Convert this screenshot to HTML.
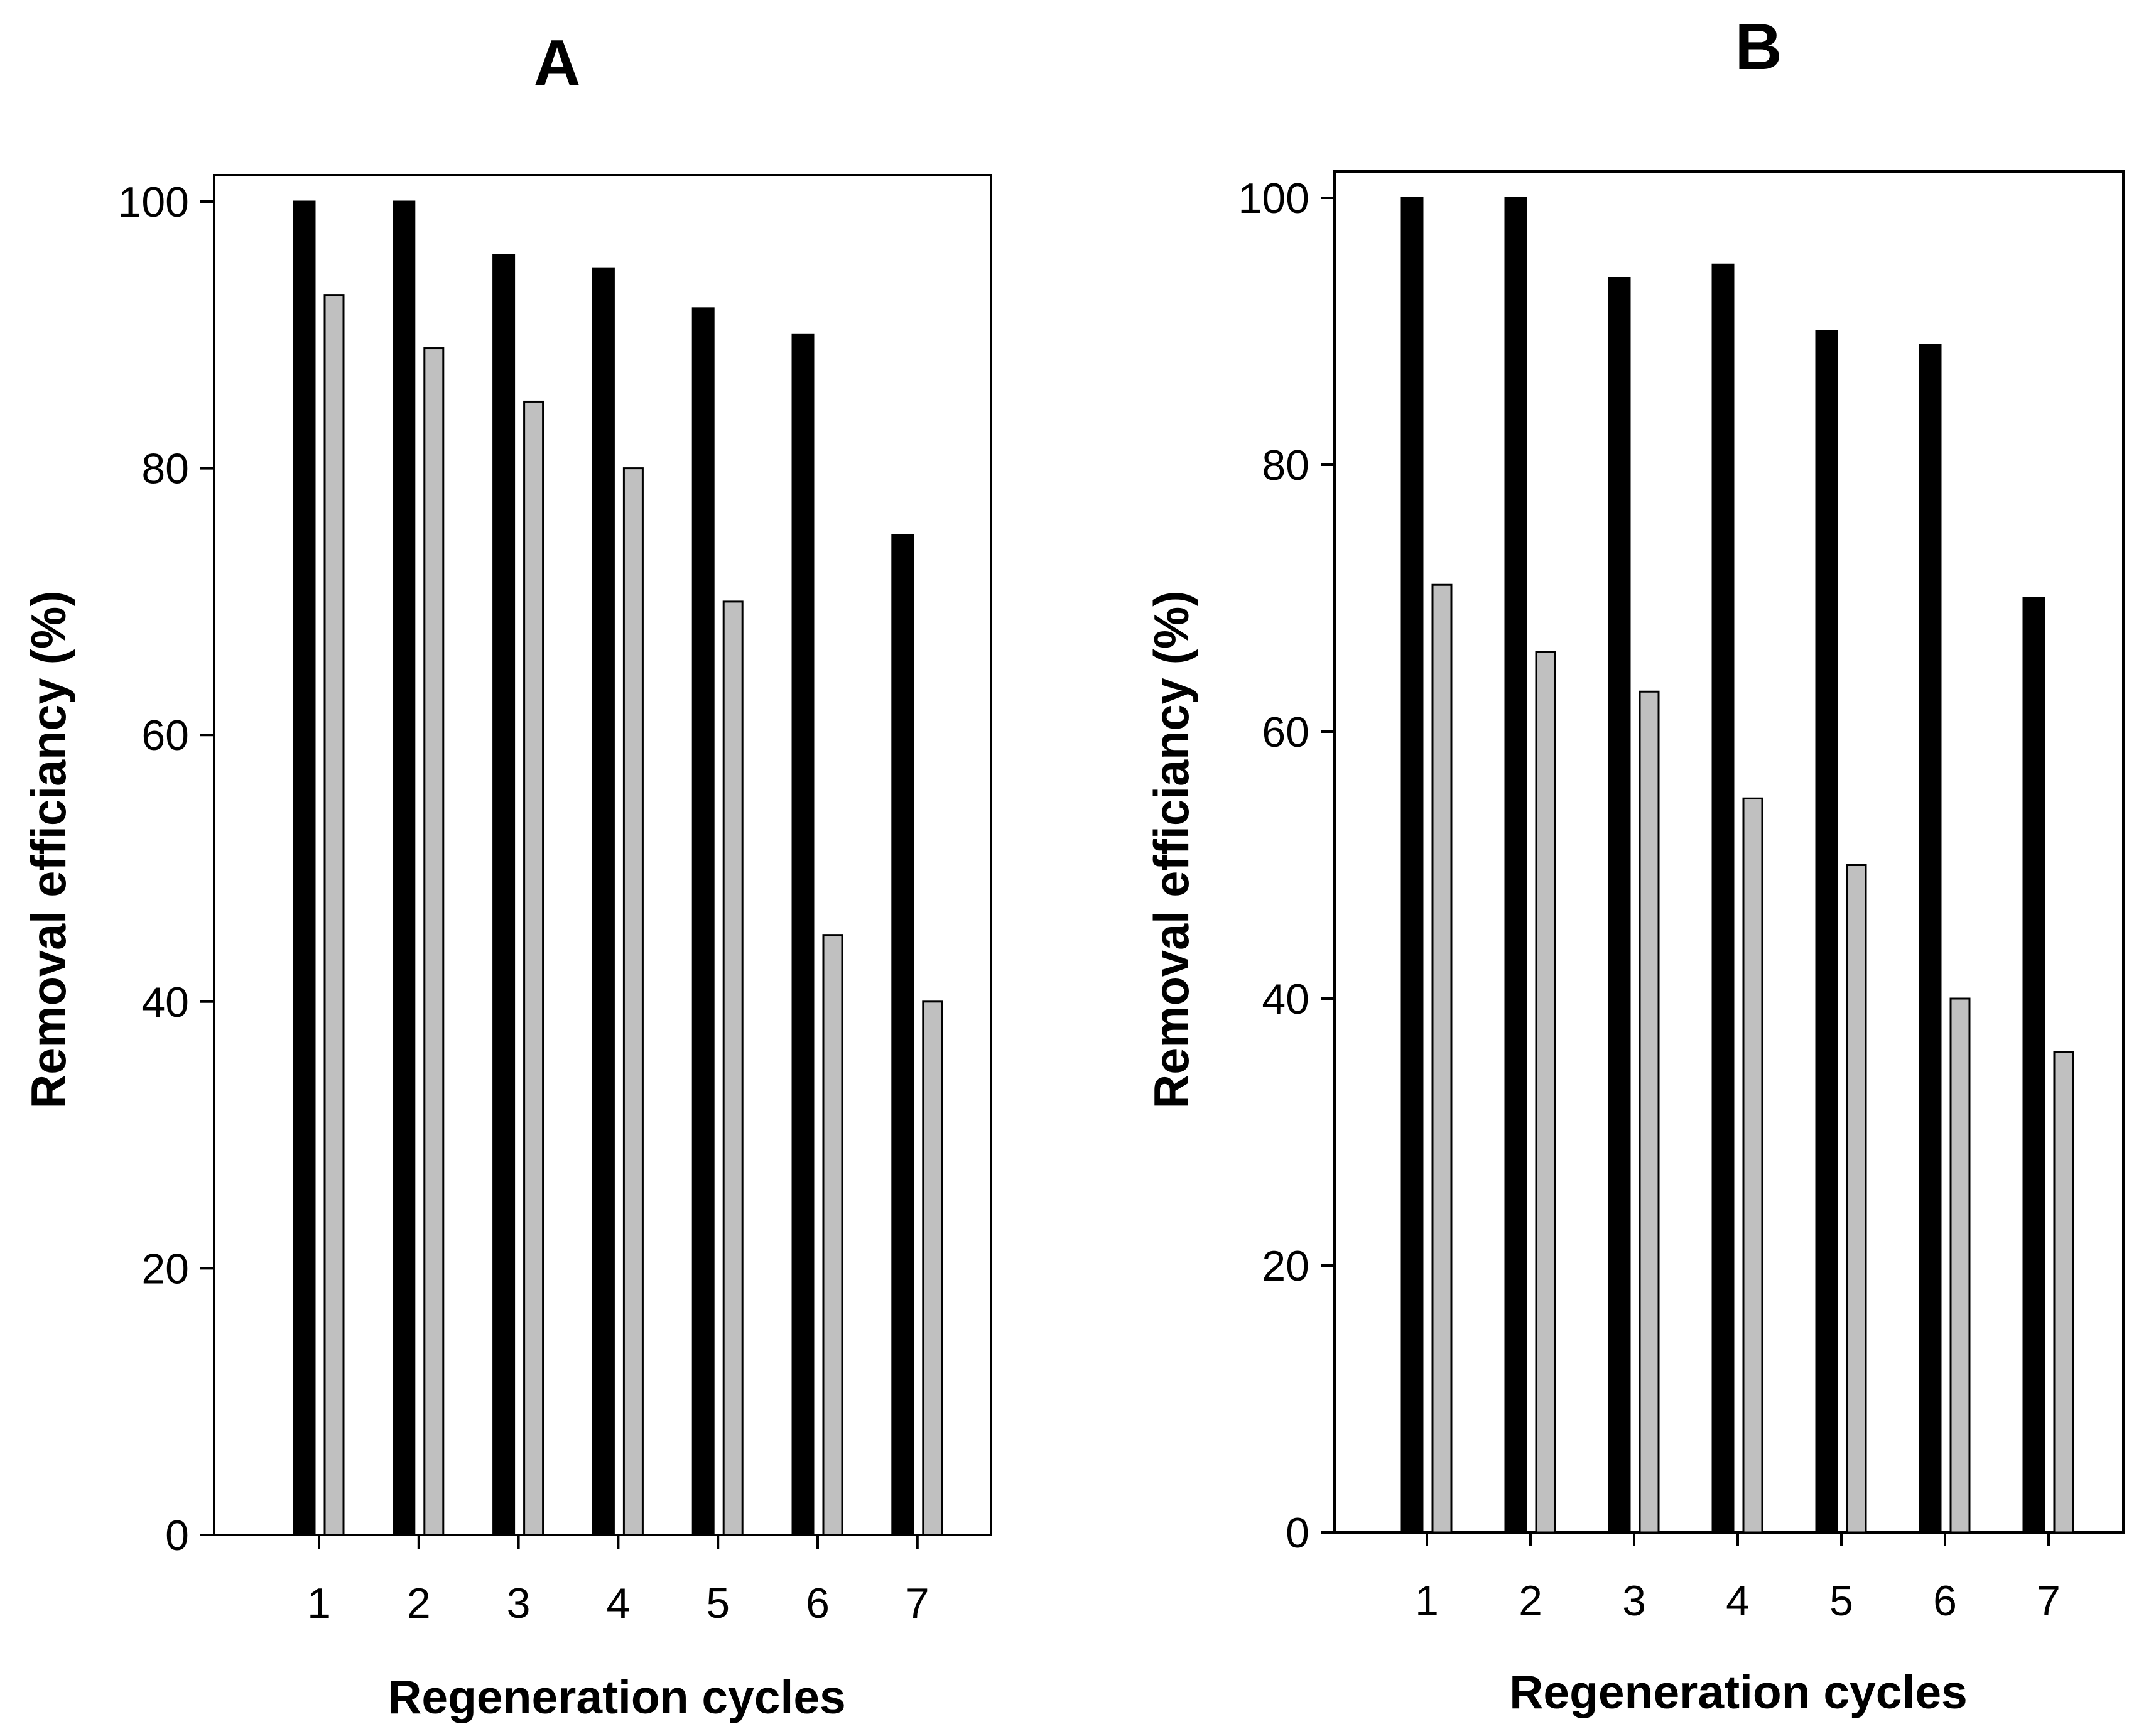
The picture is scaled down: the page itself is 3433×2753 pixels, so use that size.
<!DOCTYPE html>
<html><head><meta charset="utf-8"><style>body{margin:0;background:#fff}svg{display:block}text{font-family:"Liberation Sans",Arial,sans-serif}</style></head>
<body>
<svg id="s" width="3433" height="2753" viewBox="0 0 3433 2753" xmlns="http://www.w3.org/2000/svg"></svg>
<script>
const categories = [1,2,3,4,5,6,7];
const yTicks = [0,20,40,60,80,100];
const seriesA_black = [100,100,96,95,92,90,75];
const seriesA_gray = [93,89,85,80,70,45,40];
const seriesB_black = [100,100,94,95,90,89,70];
const seriesB_gray = [71,66,63,55,50,40,36];

const NS="http://www.w3.org/2000/svg";
const svg=document.getElementById('s');
function el(tag,attrs,parent){const e=document.createElementNS(NS,tag);for(const k in attrs)e.setAttribute(k,attrs[k]);(parent||svg).appendChild(e);return e;}

function panel(p){
  const g=el('g',{});
  
  
  const y=v=>p.y0-(p.y0-p.y100)*v/100;
  const x=c=>p.x1+(c-1)*p.dx;
  const fr=el('rect',{x:p.left,y:p.top,width:p.right-p.left,height:p.y0-p.top,fill:'none',stroke:'#000','stroke-width':4},g);
  
  
  categories.forEach((c,i)=>{
    const b=el('rect',{x:x(c)-40,y:y(p.black[i]),width:33,height:y(0)-y(p.black[i]),fill:'#000',stroke:'#000','stroke-width':3},g);
    
    
    const r=el('rect',{x:x(c)+9,y:y(p.gray[i]),width:30,height:y(0)-y(p.gray[i]),fill:'#c0c0c0',stroke:'#000','stroke-width':3},g);
    
    
    const t=el('line',{x1:x(c),x2:x(c),y1:p.y0,y2:p.y0+22,stroke:'#000','stroke-width':4},g);
    
    
    const l=el('text',{x:x(c),y:p.y0+132,'font-size':68,'text-anchor':'middle'},g);
    l.textContent=c;
    
    
  });
  yTicks.forEach(v=>{
    const t=el('line',{x1:p.left-22,x2:p.left,y1:y(v),y2:y(v),stroke:'#000','stroke-width':4},g);
    
    
    const l=el('text',{x:p.left-40,y:y(v)+24,'font-size':68,'text-anchor':'end'},g);
    l.textContent=v;
    
    
  });
  const xt=el('text',{x:p.xtx,y:p.xty,'font-size':75,'font-weight':'bold','text-anchor':'middle'},g);
  xt.textContent='Regeneration cycles';
  
  
  const yt=el('text',{x:0,y:0,'font-size':78,'font-weight':'bold','text-anchor':'middle',transform:`translate(${p.ytx},${p.yty}) rotate(-90)`,textLength:825,lengthAdjust:'spacingAndGlyphs'},g);
  yt.textContent='Removal efficiancy (%)';
  
  
  const tt=el('text',{x:p.tx,y:p.ty,'font-size':104,'font-weight':'bold','text-anchor':'middle'},g);
  tt.textContent=p.name;
  
  
}
panel({name:'A',left:341,right:1578,top:279,y100:321,y0:2444,x1:508,dx:158.8,black:seriesA_black,gray:seriesA_gray,xtx:982,xty:2728,ytx:104,yty:1353,tx:887,ty:136});
panel({name:'B',left:2125,right:3381,top:273,y100:315,y0:2440,x1:2272,dx:165,black:seriesB_black,gray:seriesB_gray,xtx:2768,xty:2720,ytx:1892,yty:1353,tx:2800,ty:110});
</script>
</body></html>
